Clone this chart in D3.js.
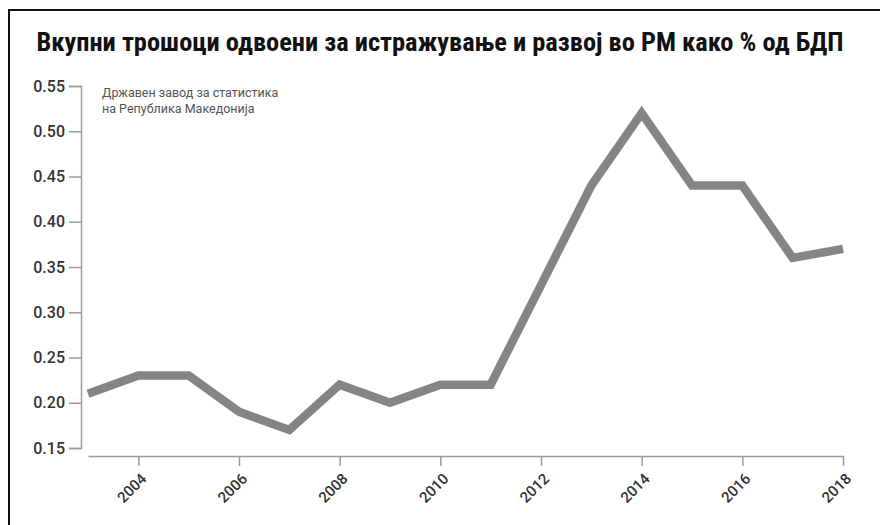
<!DOCTYPE html>
<html>
<head>
<meta charset="utf-8">
<script src="https://cdn.jsdelivr.net/npm/d3@7"></script>
<style>
  body { margin: 0; background: #fff; }
  svg { display: block; }
</style>
</head>
<body>
<div class="chart"></div>
<script>
// податоци
const title = "Вкупни трошоци одвоени за истражување и развој во РМ како % од БДП"
const sourceLines = ["Државен завод за статистика", "на Република Македонија"]
const years = [2003, 2004, 2005, 2006, 2007, 2008, 2009, 2010, 2011, 2012, 2013, 2014, 2015, 2016, 2017, 2018]
const values = [0.21, 0.23, 0.23, 0.19, 0.17, 0.22, 0.20, 0.22, 0.22, 0.33, 0.44, 0.52, 0.44, 0.44, 0.36, 0.37]
const yTicks = [0.15, 0.20, 0.25, 0.30, 0.35, 0.40, 0.45, 0.50, 0.55]
const xTicks = [2004, 2006, 2008, 2010, 2012, 2014, 2016, 2018]

function drawChart() {
  const width = 880
  const height = 525

  const svg = d3.select('.chart')
    .append('svg')
    .attr('width', width)
    .attr('height', height)

  // рамка (горе и лево)
  svg.append('path')
    .attr('d', `M9,${height} V10 H${width}`)
    .attr('fill', 'none')
    .attr('stroke', '#111')
    .attr('stroke-width', 2)

  // наслов
  svg.append('text')
    .attr('x', 440)
    .attr('y', 51)
    .attr('text-anchor', 'middle')
    .style('font-family', '"Liberation Sans Narrow", "Roboto Condensed", Roboto, sans-serif')
    .style('font-weight', 'bold')
    .style('font-size', '26.4px')
    .style('fill', '#111')
    .text(title)

  const xScale = d3.scaleLinear()
    .domain([2003, 2018])
    .range([88, 843])

  const yScale = d3.scaleLinear()
    .domain([0.15, 0.55])
    .range([448, 86])

  // Y оска
  const yAxis = d3.axisLeft(yScale)
    .tickValues(yTicks)
    .tickFormat(d3.format('.2f'))
    .tickSize(12)
    .tickPadding(4)

  const gy = svg.append('g')
    .attr('transform', 'translate(81,0)')
    .call(yAxis)
  gy.selectAll('path, line').attr('stroke', '#9a9a9a').attr('stroke-width', 1.5)
  gy.selectAll('text')
    .style('font-family', 'Roboto, sans-serif')
    .style('font-size', '16px')
    .style('font-weight', 500)
    .style('fill', '#333')

  // X оска
  const xAxis = d3.axisBottom(xScale)
    .tickValues(xTicks)
    .tickFormat(d3.format('d'))
    .tickSize(10)
    .tickSizeOuter(0)

  const gx = svg.append('g')
    .attr('transform', 'translate(0,456)')
    .call(xAxis)
  gx.selectAll('path, line').attr('stroke', '#9a9a9a').attr('stroke-width', 1.5)
  gx.selectAll('text')
    .attr('x', 0)
    .attr('y', 0)
    .attr('dy', '0.35em')
    .attr('transform', 'translate(5,20) rotate(-45)')
    .attr('text-anchor', 'end')
    .style('font-family', 'Roboto, sans-serif')
    .style('font-size', '15px')
    .style('font-weight', 500)
    .style('fill', '#333')

  // извор
  svg.append('text')
    .attr('x', 102)
    .attr('y', 97)
    .style('font-family', 'Roboto, sans-serif')
    .style('font-size', '12.5px')
    .style('fill', '#555')
    .selectAll('tspan')
    .data(sourceLines)
    .enter()
    .append('tspan')
    .attr('x', 102)
    .attr('dy', (d, i) => i === 0 ? 0 : 16)
    .text(d => d)

  // линија
  const line = d3.line()
    .x((d, i) => xScale(years[i]))
    .y(d => yScale(d))

  svg.append('path')
    .datum(values)
    .attr('d', line)
    .attr('fill', 'none')
    .attr('stroke', '#858585')
    .attr('stroke-width', 8.5)
    .attr('stroke-linejoin', 'miter')
}

drawChart()
</script>
</body>
</html>
